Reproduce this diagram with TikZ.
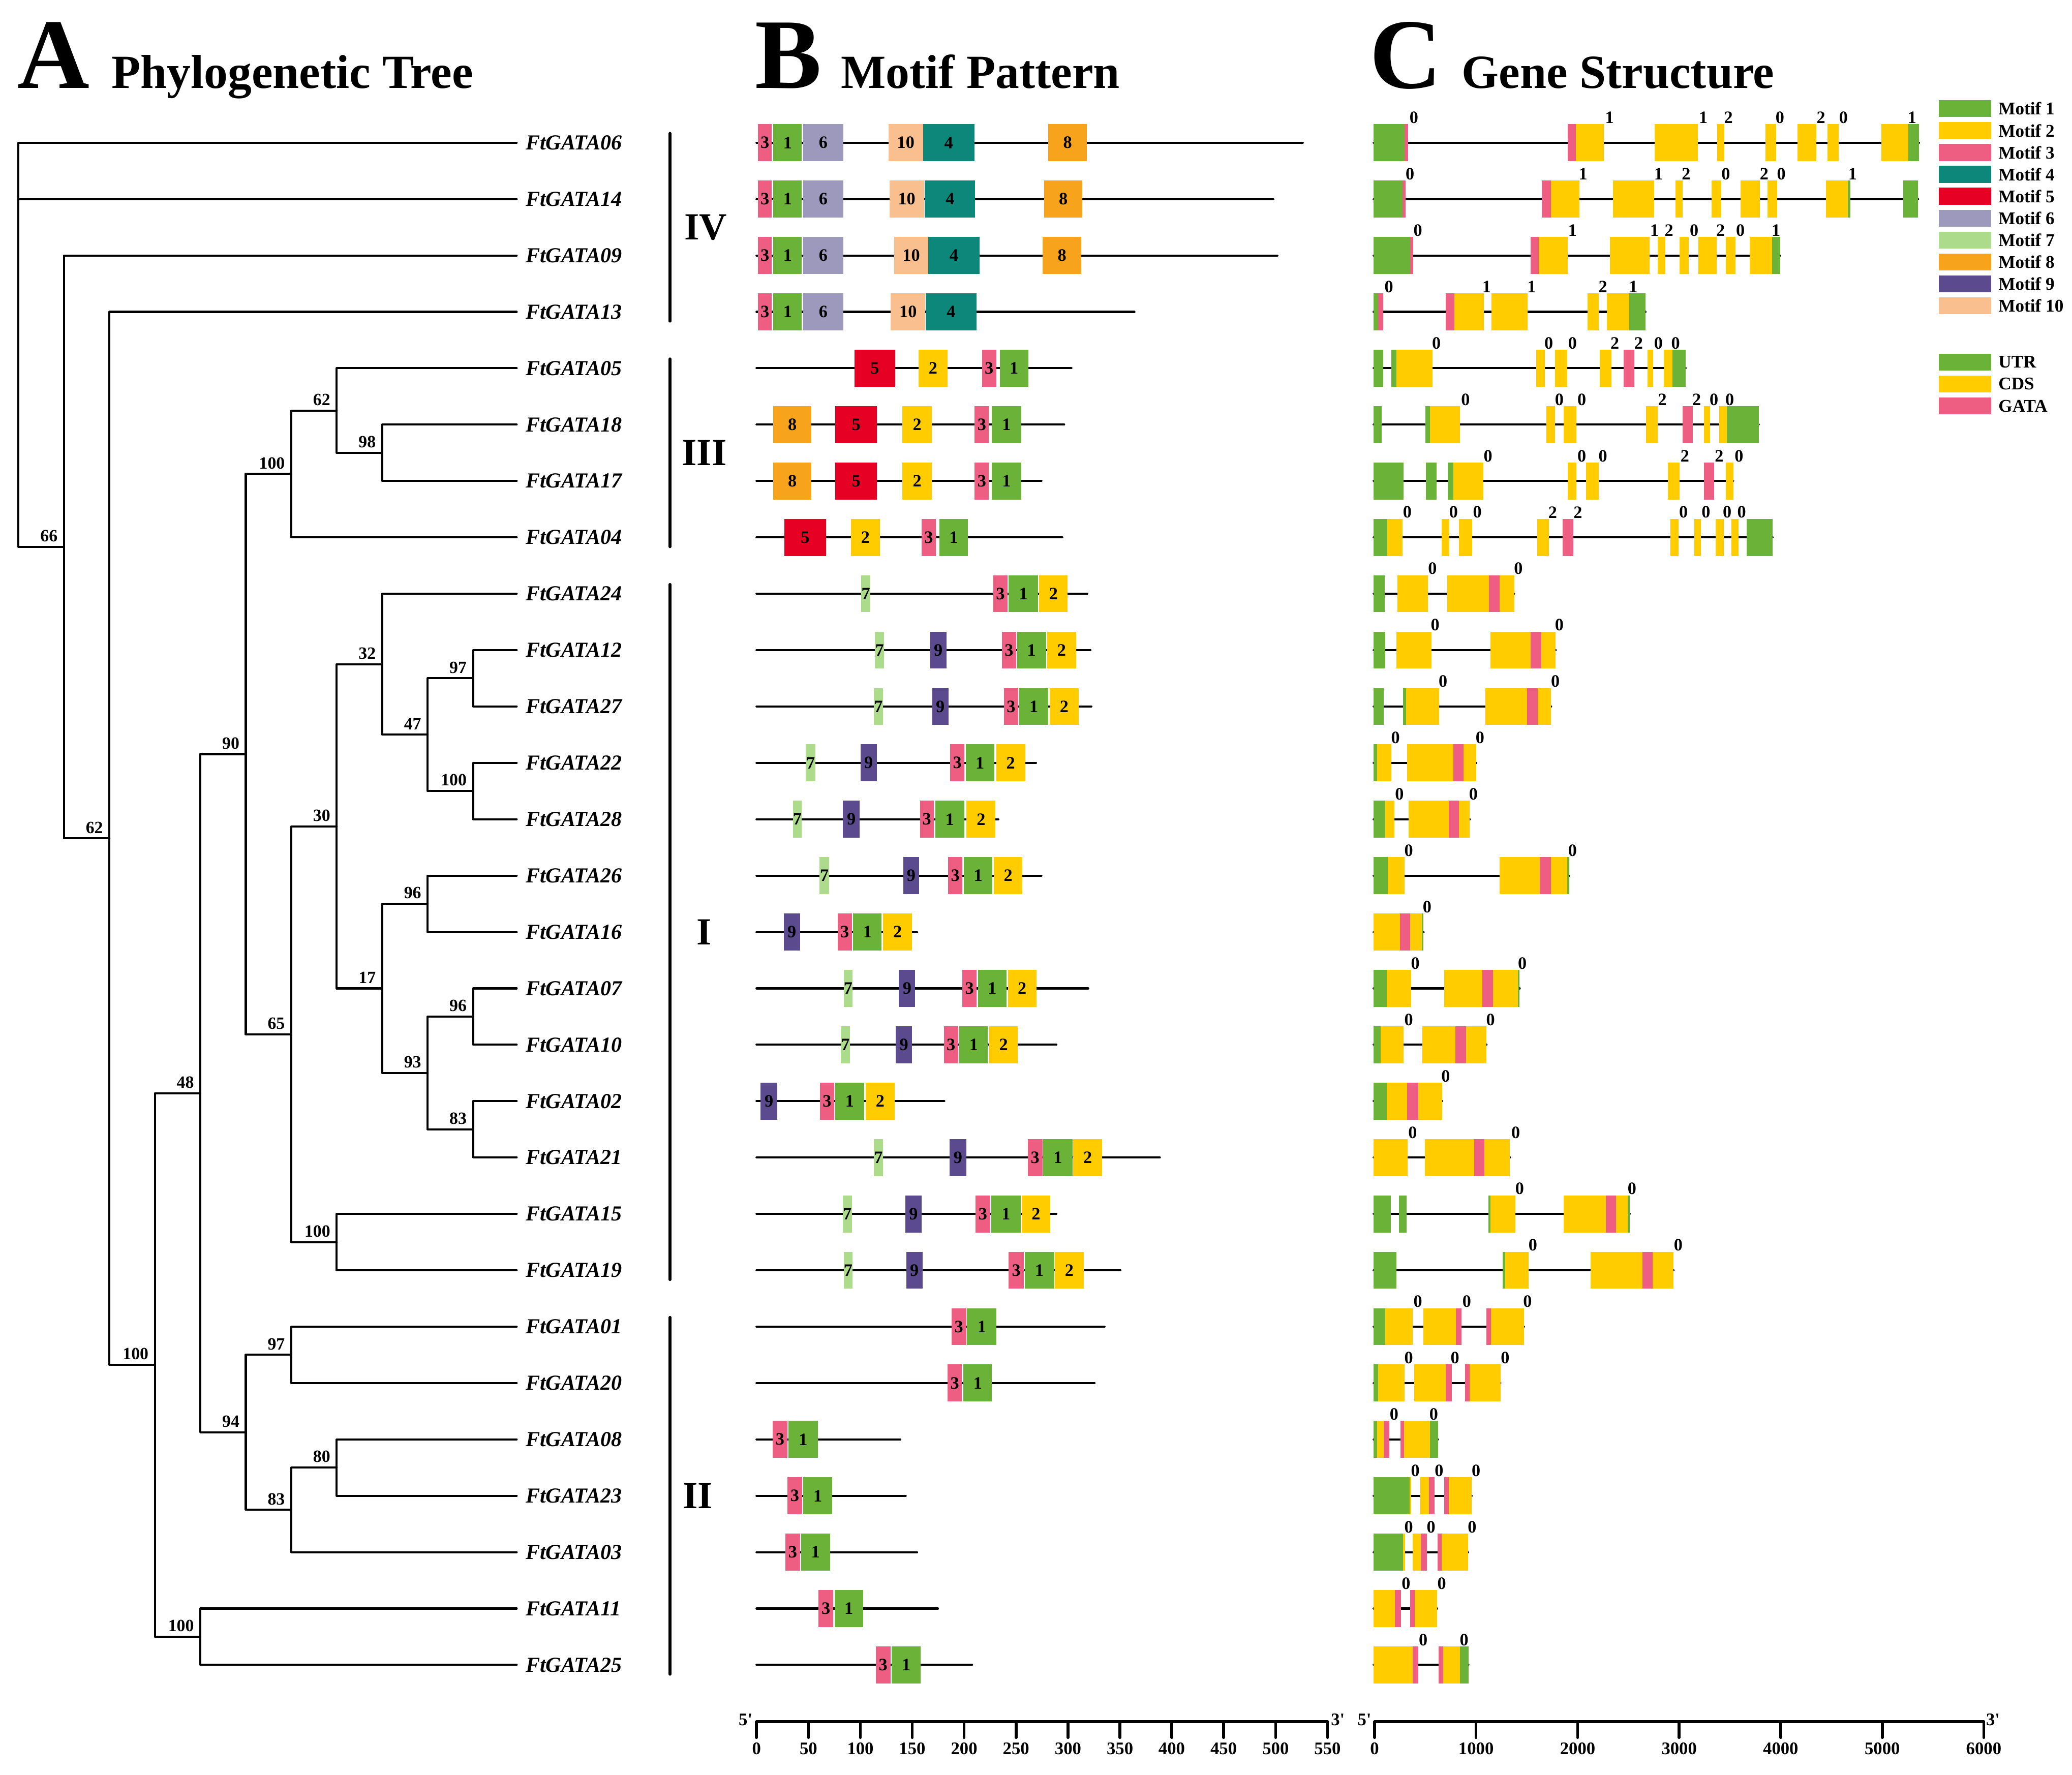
\documentclass[tikz,border=0pt]{standalone}
\usepackage{fontspec}
\setmainfont{Liberation Serif}
\usepackage{tikz}
\definecolor{motifone}{rgb}{0.42,0.70,0.22}
\definecolor{motiftwo}{rgb}{1.00,0.80,0.00}
\definecolor{motifthree}{rgb}{0.93,0.37,0.51}
\definecolor{motiffour}{rgb}{0.05,0.53,0.48}
\definecolor{motiffive}{rgb}{0.90,0.00,0.14}
\definecolor{motifsix}{rgb}{0.61,0.60,0.74}
\definecolor{motifseven}{rgb}{0.68,0.86,0.55}
\definecolor{motifeight}{rgb}{0.97,0.64,0.11}
\definecolor{motifnine}{rgb}{0.36,0.29,0.56}
\definecolor{motiften}{rgb}{0.98,0.75,0.56}
\colorlet{utrgreen}{motifone}
\colorlet{cdsyellow}{motiftwo}
\colorlet{gatapink}{motifthree}
\newcommand{\rowy}[1]{(108+42.667*(#1))}
\newcommand{\motifbox}[5]{\fill[#4] (#2,{\rowy{#1}-14}) rectangle (#3,{\rowy{#1}+14});
  \node[mlabel] (m#1-#5) at ({(#2+#3)/2},{\rowy{#1}}) {#5};}
\newcommand{\exon}[4]{\fill[#4] (#2,{\rowy{#1}-14}) rectangle (#3,{\rowy{#1}+14});}
\newcommand{\phase}[3]{\node[plabel] (p#1-#2) at (#2,{\rowy{#1}-19}) {#3};}
\newcommand{\seqline}[3]{\draw[seq] (#2,{\rowy{#1}}) -- (#3,{\rowy{#1}});}
\newcommand{\leaf}[2]{\coordinate (t#2) at (391,{\rowy{#1}});
  \node[gene] (g#2) at (397.5,{\rowy{#1}}) {FtGATA#2};}

\begin{document}
\begin{tikzpicture}[x=0.02cm,y=-0.02cm,line cap=round,line join=round,
    branch/.style={line width=0.9pt},
    seq/.style={line width=0.9pt},
    bar/.style={line width=1.3pt},
    axisline/.style={line width=1.2pt},
    gene/.style={anchor=west,inner sep=0pt,font=\fontsize{9.2}{10}\selectfont\bfseries\itshape},
    boot/.style={anchor=south east,inner sep=0pt,xshift=-0.09cm,yshift=0.07cm,font=\fontsize{7.4}{8}\selectfont\bfseries},
    mlabel/.style={inner sep=0pt,font=\fontsize{7.5}{8}\selectfont\bfseries},
    plabel/.style={inner sep=0pt,font=\fontsize{7.5}{8}\selectfont\bfseries},
    legtext/.style={anchor=west,inner sep=0pt,font=\fontsize{7.7}{8}\selectfont\bfseries},
    ticklabel/.style={inner sep=0pt,font=\fontsize{7.6}{8}\selectfont\bfseries},
    panelletter/.style={anchor=base west,inner sep=0pt,font=\fontsize{43}{43}\selectfont\bfseries},
    paneltitle/.style={anchor=base west,inner sep=0pt,font=\fontsize{20.5}{21}\selectfont\bfseries},
    clade/.style={inner sep=0pt,font=\fontsize{16.5}{17}\selectfont\bfseries}]
    \fill[white] (0,0) rectangle (1568,1343);
    % titles
    \node[panelletter] (lA) at (13,66.7) {A};
    \node[paneltitle] (tA) at (84,66.7) {Phylogenetic Tree};
    \node[panelletter] (lB) at (571,66.7) {B};
    \node[paneltitle] (tB) at (636,66.7) {Motif Pattern};
    \node[panelletter] (lC) at (1036,66.7) {C};
    \node[paneltitle] (tC) at (1106,66.7) {Gene Structure};
    % leaves
    \leaf{0}{06} \leaf{1}{14} \leaf{2}{09} \leaf{3}{13}
    \leaf{4}{05} \leaf{5}{18} \leaf{6}{17} \leaf{7}{04}
    \leaf{8}{24} \leaf{9}{12} \leaf{10}{27} \leaf{11}{22}
    \leaf{12}{28} \leaf{13}{26} \leaf{14}{16} \leaf{15}{07}
    \leaf{16}{10} \leaf{17}{02} \leaf{18}{21} \leaf{19}{15}
    \leaf{20}{19} \leaf{21}{01} \leaf{22}{20} \leaf{23}{08}
    \leaf{24}{23} \leaf{25}{03} \leaf{26}{11} \leaf{27}{25}
    % inner nodes
    \coordinate (root) at (14,261);
    \coordinate (n66) at (48.4,413.9);
    \coordinate (n62a) at (82.8,634.5);
    \coordinate (n100a) at (117.2,1033);
    \coordinate (n48) at (151.6,827.33);
    \coordinate (n100b) at (151.6,1238.67);
    \coordinate (n90) at (186,570.67);
    \coordinate (n94) at (186,1084);
    \coordinate (n100c) at (220.4,358.67);
    \coordinate (n65) at (220.4,782.67);
    \coordinate (n97b) at (220.4,1025.33);
    \coordinate (n83b) at (220.4,1142.67);
    \coordinate (n62b) at (254.8,310.67);
    \coordinate (n30) at (254.8,625.33);
    \coordinate (n100d) at (254.8,940);
    \coordinate (n80) at (254.8,1110.67);
    \coordinate (n98) at (289.2,342.67);
    \coordinate (n32) at (289.2,502.67);
    \coordinate (n17) at (289.2,748);
    \coordinate (n47) at (323.6,556);
    \coordinate (n96a) at (323.6,684);
    \coordinate (n93) at (323.6,812);
    \coordinate (n97a) at (358,513.33);
    \coordinate (n100e) at (358,598.67);
    \coordinate (n96b) at (358,769.33);
    \coordinate (n83a) at (358,854.67);
    % branches
    \draw[branch] (root) |- (t06); \draw[branch] (root) |- (t14); \draw[branch] (root) |- (n66);
    \draw[branch] (n66) |- (t09); \draw[branch] (n66) |- (n62a);
    \draw[branch] (n62a) |- (t13); \draw[branch] (n62a) |- (n100a);
    \draw[branch] (n100a) |- (n48); \draw[branch] (n100a) |- (n100b);
    \draw[branch] (n100b) |- (t11); \draw[branch] (n100b) |- (t25);
    \draw[branch] (n48) |- (n90); \draw[branch] (n48) |- (n94);
    \draw[branch] (n90) |- (n100c); \draw[branch] (n90) |- (n65);
    \draw[branch] (n100c) |- (n62b); \draw[branch] (n100c) |- (t04);
    \draw[branch] (n62b) |- (t05); \draw[branch] (n62b) |- (n98);
    \draw[branch] (n98) |- (t18); \draw[branch] (n98) |- (t17);
    \draw[branch] (n65) |- (n30); \draw[branch] (n65) |- (n100d);
    \draw[branch] (n100d) |- (t15); \draw[branch] (n100d) |- (t19);
    \draw[branch] (n30) |- (n32); \draw[branch] (n30) |- (n17);
    \draw[branch] (n32) |- (t24); \draw[branch] (n32) |- (n47);
    \draw[branch] (n47) |- (n97a); \draw[branch] (n47) |- (n100e);
    \draw[branch] (n97a) |- (t12); \draw[branch] (n97a) |- (t27);
    \draw[branch] (n100e) |- (t22); \draw[branch] (n100e) |- (t28);
    \draw[branch] (n17) |- (n96a); \draw[branch] (n17) |- (n93);
    \draw[branch] (n96a) |- (t26); \draw[branch] (n96a) |- (t16);
    \draw[branch] (n93) |- (n96b); \draw[branch] (n93) |- (n83a);
    \draw[branch] (n96b) |- (t07); \draw[branch] (n96b) |- (t10);
    \draw[branch] (n83a) |- (t02); \draw[branch] (n83a) |- (t21);
    \draw[branch] (n94) |- (n97b); \draw[branch] (n94) |- (n83b);
    \draw[branch] (n97b) |- (t01); \draw[branch] (n97b) |- (t20);
    \draw[branch] (n83b) |- (n80); \draw[branch] (n83b) |- (t03);
    \draw[branch] (n80) |- (t08); \draw[branch] (n80) |- (t23);
    % bootstrap
    \node[boot] (b66) at (n66) {66};
    \node[boot] (b62a) at (n62a) {62};
    \node[boot] (b100a) at (n100a) {100};
    \node[boot] (b48) at (n48) {48};
    \node[boot] (b100b) at (n100b) {100};
    \node[boot] (b90) at (n90) {90};
    \node[boot] (b94) at (n94) {94};
    \node[boot] (b100c) at (n100c) {100};
    \node[boot] (b65) at (n65) {65};
    \node[boot] (b97b) at (n97b) {97};
    \node[boot] (b83b) at (n83b) {83};
    \node[boot] (b62b) at (n62b) {62};
    \node[boot] (b30) at (n30) {30};
    \node[boot] (b100d) at (n100d) {100};
    \node[boot] (b80) at (n80) {80};
    \node[boot] (b98) at (n98) {98};
    \node[boot] (b32) at (n32) {32};
    \node[boot] (b17) at (n17) {17};
    \node[boot] (b47) at (n47) {47};
    \node[boot] (b96a) at (n96a) {96};
    \node[boot] (b93) at (n93) {93};
    \node[boot] (b97a) at (n97a) {97};
    \node[boot] (b100e) at (n100e) {100};
    \node[boot] (b96b) at (n96b) {96};
    \node[boot] (b83a) at (n83a) {83};
    % groups
    \draw[bar] (507,{\rowy{0}-7}) -- (507,{\rowy{3}+7});
    \draw[bar] (507,{\rowy{4}-7}) -- (507,{\rowy{7}+7});
    \draw[bar] (507,{\rowy{8}-7}) -- (507,{\rowy{20}+7});
    \draw[bar] (507,{\rowy{21}-7}) -- (507,{\rowy{27}+7});
    \node[clade] (cIV) at (533.9,{\rowy{1.5}}) {IV};
    \node[clade] (cIII) at (533,{\rowy{5.5}}) {III};
    \node[clade] (cI) at (533,{\rowy{14}}) {I};
    \node[clade] (cII) at (528,{\rowy{24}}) {II};
    % motifs
    \seqline{0}{572.5}{985.9}
    \motifbox{0}{573.5}{584.1}{motifthree}{3} \motifbox{0}{585.2}{606.8}{motifone}{1} \motifbox{0}{607.8}{638.1}{motifsix}{6}
    \motifbox{0}{672.4}{698.5}{motiften}{10} \motifbox{0}{698.5}{737.3}{motiffour}{4} \motifbox{0}{793.3}{822.5}{motifeight}{8}
    \seqline{1}{572.5}{963.6}
    \motifbox{1}{573.5}{584.1}{motifthree}{3} \motifbox{1}{585.2}{606.8}{motifone}{1} \motifbox{1}{607.8}{638.1}{motifsix}{6}
    \motifbox{1}{673.1}{699.2}{motiften}{10} \motifbox{1}{699.9}{738}{motiffour}{4} \motifbox{1}{790.2}{819}{motifeight}{8}
    \seqline{2}{572.5}{966.7}
    \motifbox{2}{573.5}{584.1}{motifthree}{3} \motifbox{2}{585.2}{606.8}{motifone}{1} \motifbox{2}{607.8}{638.1}{motifsix}{6}
    \motifbox{2}{676.5}{702.6}{motiften}{10} \motifbox{2}{702.6}{741.1}{motiffour}{4} \motifbox{2}{789.1}{818.3}{motifeight}{8}
    \seqline{3}{572.5}{858.5}
    \motifbox{3}{573.5}{584.1}{motifthree}{3} \motifbox{3}{585.2}{606.8}{motifone}{1} \motifbox{3}{607.8}{638.1}{motifsix}{6}
    \motifbox{3}{674.1}{700.2}{motiften}{10} \motifbox{3}{700.5}{739}{motiffour}{4}
    \seqline{4}{572.5}{810.8}
    \motifbox{4}{646.6}{677.5}{motiffive}{5} \motifbox{4}{695.1}{717.1}{motiftwo}{2} \motifbox{4}{743.1}{753.8}{motifthree}{3} \motifbox{4}{756.5}{778.2}{motifone}{1}
    \seqline{5}{572.5}{805.3}
    \motifbox{5}{585.2}{614}{motifeight}{8} \motifbox{5}{632.2}{663.5}{motiffive}{5} \motifbox{5}{683}{705}{motiftwo}{2}
    \motifbox{5}{737.6}{748.3}{motifthree}{3} \motifbox{5}{750.7}{772.7}{motifone}{1}
    \seqline{6}{572.5}{788.1}
    \motifbox{6}{585.2}{614}{motifeight}{8} \motifbox{6}{632.2}{663.5}{motiffive}{5} \motifbox{6}{683}{705}{motiftwo}{2}
    \motifbox{6}{737.6}{748.3}{motifthree}{3} \motifbox{6}{750.7}{772.7}{motifone}{1}
    \seqline{7}{572.5}{803.9}
    \motifbox{7}{593.7}{625}{motiffive}{5} \motifbox{7}{643.9}{665.9}{motiftwo}{2} \motifbox{7}{697.5}{708.1}{motifthree}{3} \motifbox{7}{710.9}{732.5}{motifone}{1}
    \seqline{8}{572.5}{822.8}
    \motifbox{8}{651.8}{658.6}{motifseven}{7} \motifbox{8}{751.7}{762.4}{motifthree}{3} \motifbox{8}{763.4}{785.4}{motifone}{1} \motifbox{8}{786.4}{808}{motiftwo}{2}
    \seqline{9}{572.5}{825.2}
    \motifbox{9}{662.1}{669}{motifseven}{7} \motifbox{9}{703.6}{716.4}{motifnine}{9} \motifbox{9}{758.2}{768.9}{motifthree}{3}
    \motifbox{9}{769.6}{791.6}{motifone}{1} \motifbox{9}{792.6}{814.2}{motiftwo}{2}
    \seqline{10}{572.5}{825.9}
    \motifbox{10}{661.1}{668.3}{motifseven}{7} \motifbox{10}{705.4}{717.7}{motifnine}{9} \motifbox{10}{759.6}{770.6}{motifthree}{3}
    \motifbox{10}{771.3}{793.3}{motifone}{1} \motifbox{10}{794.3}{816.3}{motiftwo}{2}
    \seqline{11}{572.5}{784}
    \motifbox{11}{609.9}{617.1}{motifseven}{7} \motifbox{11}{651.1}{663.5}{motifnine}{9} \motifbox{11}{719.1}{729.7}{motifthree}{3}
    \motifbox{11}{730.8}{752.4}{motifone}{1} \motifbox{11}{753.8}{775.8}{motiftwo}{2}
    \seqline{12}{572.5}{755.5}
    \motifbox{12}{600}{606.8}{motifseven}{7} \motifbox{12}{638}{650.4}{motifnine}{9} \motifbox{12}{696.1}{706.7}{motifthree}{3}
    \motifbox{12}{707.8}{729.7}{motifone}{1} \motifbox{12}{731.4}{753.4}{motiftwo}{2}
    \seqline{13}{572.5}{788.1}
    \motifbox{13}{620.2}{627.4}{motifseven}{7} \motifbox{13}{683.4}{695.7}{motifnine}{9} \motifbox{13}{717.4}{728.4}{motifthree}{3}
    \motifbox{13}{729.4}{751}{motifone}{1} \motifbox{13}{752.1}{773.7}{motiftwo}{2}
    \seqline{14}{572.5}{694}
    \motifbox{14}{593.1}{605.4}{motifnine}{9} \motifbox{14}{633.9}{644.6}{motifthree}{3} \motifbox{14}{645.6}{667.2}{motifone}{1} \motifbox{14}{668.3}{690.2}{motiftwo}{2}
    \seqline{15}{572.5}{823.5}
    \motifbox{15}{638.4}{645.3}{motifseven}{7} \motifbox{15}{680.3}{692.6}{motifnine}{9} \motifbox{15}{728.4}{739}{motifthree}{3}
    \motifbox{15}{740}{761.7}{motifone}{1} \motifbox{15}{762.7}{784.3}{motiftwo}{2}
    \seqline{16}{572.5}{799.4}
    \motifbox{16}{636.3}{643.2}{motifseven}{7} \motifbox{16}{677.9}{690.2}{motifnine}{9} \motifbox{16}{714.3}{725}{motifthree}{3}
    \motifbox{16}{726}{747.6}{motifone}{1} \motifbox{16}{748.6}{770.3}{motiftwo}{2}
    \seqline{17}{572.5}{714.6}
    \motifbox{17}{575.5}{588.3}{motifnine}{9} \motifbox{17}{620.5}{631.2}{motifthree}{3} \motifbox{17}{632.2}{653.8}{motifone}{1} \motifbox{17}{655.2}{676.9}{motiftwo}{2}
    \seqline{18}{572.5}{877.7}
    \motifbox{18}{661.1}{668.3}{motifseven}{7} \motifbox{18}{718.7}{731.1}{motifnine}{9} \motifbox{18}{777.8}{788.8}{motifthree}{3}
    \motifbox{18}{789.5}{811.5}{motifone}{1} \motifbox{18}{812.2}{834.1}{motiftwo}{2}
    \seqline{19}{572.5}{799.4}
    \motifbox{19}{637.7}{644.6}{motifseven}{7} \motifbox{19}{685.1}{697.5}{motifnine}{9} \motifbox{19}{738.3}{749.3}{motifthree}{3}
    \motifbox{19}{750.3}{772.3}{motifone}{1} \motifbox{19}{773.4}{794.6}{motiftwo}{2}
    \seqline{20}{572.5}{847.9}
    \motifbox{20}{638.4}{645.3}{motifseven}{7} \motifbox{20}{685.8}{698.1}{motifnine}{9} \motifbox{20}{763.4}{774.7}{motifthree}{3}
    \motifbox{20}{775.4}{797.7}{motifone}{1} \motifbox{20}{798.4}{820}{motiftwo}{2}
    \seqline{21}{572.5}{835.9}
    \motifbox{21}{720.1}{731.1}{motifthree}{3} \motifbox{21}{731.8}{754.1}{motifone}{1}
    \seqline{22}{572.5}{828.3}
    \motifbox{22}{717}{728}{motifthree}{3} \motifbox{22}{729.1}{750.7}{motifone}{1}
    \seqline{23}{572.5}{681.3}
    \motifbox{23}{584.8}{595.8}{motifthree}{3} \motifbox{23}{596.8}{618.8}{motifone}{1}
    \seqline{24}{572.5}{685.4}
    \motifbox{24}{595.8}{607.1}{motifthree}{3} \motifbox{24}{607.8}{629.8}{motifone}{1}
    \seqline{25}{572.5}{694}
    \motifbox{25}{594.4}{605.4}{motifthree}{3} \motifbox{25}{606.1}{628.1}{motifone}{1}
    \seqline{26}{572.5}{709.8}
    \motifbox{26}{619.5}{630.5}{motifthree}{3} \motifbox{26}{631.5}{653.2}{motifone}{1}
    \seqline{27}{572.5}{735.6}
    \motifbox{27}{662.8}{673.8}{motifthree}{3} \motifbox{27}{674.8}{696.8}{motifone}{1}
    % gene structure
    \seqline{0}{1039.5}{1452.2}
    \exon{0}{1039.5}{1063}{utrgreen} \exon{0}{1063}{1065.4}{gatapink} \exon{0}{1186.4}{1192.7}{gatapink} \exon{0}{1192.7}{1213.7}{cdsyellow}
    \exon{0}{1252.2}{1285}{cdsyellow} \exon{0}{1299.4}{1305}{cdsyellow} \exon{0}{1336.1}{1344.2}{cdsyellow} \exon{0}{1360.3}{1374.6}{cdsyellow}
    \exon{0}{1383}{1391.4}{cdsyellow} \exon{0}{1423.9}{1444.2}{cdsyellow} \exon{0}{1444.2}{1452.2}{utrgreen}
    \phase{0}{1070}{0} \phase{0}{1218}{1} \phase{0}{1289}{1} \phase{0}{1308}{2} \phase{0}{1347}{0} \phase{0}{1378}{2} \phase{0}{1395}{0} \phase{0}{1447}{1}
    \seqline{1}{1039.5}{1451.5}
    \exon{1}{1039.5}{1061.2}{utrgreen} \exon{1}{1061.2}{1063.7}{gatapink} \exon{1}{1166.8}{1173.5}{gatapink} \exon{1}{1173.5}{1195.2}{cdsyellow}
    \exon{1}{1220.7}{1251.8}{cdsyellow} \exon{1}{1267.9}{1273.5}{cdsyellow} \exon{1}{1295.2}{1302.6}{cdsyellow} \exon{1}{1317.2}{1331.6}{cdsyellow}
    \exon{1}{1337.5}{1344.9}{cdsyellow} \exon{1}{1381.9}{1398.4}{cdsyellow} \exon{1}{1398.4}{1400.1}{utrgreen} \exon{1}{1440.3}{1451.5}{utrgreen}
    \phase{1}{1067}{0} \phase{1}{1198}{1} \phase{1}{1255}{1} \phase{1}{1276}{2} \phase{1}{1306}{0} \phase{1}{1335}{2} \phase{1}{1348}{0} \phase{1}{1402}{1}
    \seqline{2}{1039.5}{1347}
    \exon{2}{1039.5}{1067.1}{utrgreen} \exon{2}{1067.1}{1069.6}{gatapink} \exon{2}{1158.1}{1164.4}{gatapink} \exon{2}{1164.4}{1186.4}{cdsyellow}
    \exon{2}{1218.3}{1248.3}{cdsyellow} \exon{2}{1254.6}{1260.2}{cdsyellow} \exon{2}{1271}{1278}{cdsyellow} \exon{2}{1285.1}{1299}{cdsyellow}
    \exon{2}{1306}{1313.4}{cdsyellow} \exon{2}{1323.9}{1341}{cdsyellow} \exon{2}{1341}{1347}{utrgreen}
    \phase{2}{1073}{0} \phase{2}{1190}{1} \phase{2}{1252}{1} \phase{2}{1263}{2} \phase{2}{1282}{0} \phase{2}{1302}{2} \phase{2}{1317}{0} \phase{2}{1344}{1}
    \seqline{3}{1039.5}{1245.2}
    \exon{3}{1039.5}{1043}{utrgreen} \exon{3}{1043}{1046.9}{gatapink} \exon{3}{1094.1}{1100.7}{gatapink} \exon{3}{1100.7}{1122.8}{cdsyellow}
    \exon{3}{1128.7}{1156}{cdsyellow} \exon{3}{1201.5}{1209.9}{cdsyellow} \exon{3}{1215.8}{1232.9}{cdsyellow} \exon{3}{1232.9}{1245.2}{utrgreen}
    \phase{3}{1051}{0} \phase{3}{1125}{1} \phase{3}{1159}{1} \phase{3}{1213}{2} \phase{3}{1236}{1}
    \seqline{4}{1039.5}{1275.6}
    \exon{4}{1039.5}{1046.9}{utrgreen} \exon{4}{1052.8}{1056.7}{utrgreen} \exon{4}{1056.7}{1084}{cdsyellow} \exon{4}{1162.6}{1168.9}{cdsyellow}
    \exon{4}{1176.6}{1186}{cdsyellow} \exon{4}{1210.6}{1219.3}{cdsyellow} \exon{4}{1228.7}{1236.8}{gatapink} \exon{4}{1246.9}{1251.1}{cdsyellow}
    \exon{4}{1259.2}{1265.5}{cdsyellow} \exon{4}{1265.5}{1275.6}{utrgreen}
    \phase{4}{1087}{0} \phase{4}{1172}{0} \phase{4}{1190}{0} \phase{4}{1222}{2} \phase{4}{1240}{2} \phase{4}{1255}{0} \phase{4}{1268}{0}
    \seqline{5}{1039.5}{1330.9}
    \exon{5}{1039.5}{1045.5}{utrgreen} \exon{5}{1078.7}{1082.2}{utrgreen} \exon{5}{1082.2}{1104.9}{cdsyellow} \exon{5}{1170.3}{1176.6}{cdsyellow}
    \exon{5}{1183.3}{1193.1}{cdsyellow} \exon{5}{1245.5}{1254.3}{cdsyellow} \exon{5}{1273.2}{1280.9}{gatapink} \exon{5}{1289.6}{1294.2}{cdsyellow}
    \exon{5}{1301.1}{1306.7}{cdsyellow} \exon{5}{1306.7}{1330.9}{utrgreen}
    \phase{5}{1109}{0} \phase{5}{1180}{0} \phase{5}{1197}{0} \phase{5}{1258}{2} \phase{5}{1284}{2} \phase{5}{1297}{0} \phase{5}{1309}{0}
    \seqline{6}{1039.5}{1311.6}
    \exon{6}{1039.5}{1062.3}{utrgreen} \exon{6}{1079}{1087.1}{utrgreen} \exon{6}{1095.5}{1099.7}{utrgreen} \exon{6}{1099.7}{1122.4}{cdsyellow}
    \exon{6}{1186.4}{1193.1}{cdsyellow} \exon{6}{1200.1}{1209.9}{cdsyellow} \exon{6}{1262.3}{1271}{cdsyellow} \exon{6}{1289.6}{1297.3}{gatapink}
    \exon{6}{1306}{1311.6}{cdsyellow}
    \phase{6}{1126}{0} \phase{6}{1197}{0} \phase{6}{1213}{0} \phase{6}{1275}{2} \phase{6}{1301}{2} \phase{6}{1316}{0}
    \seqline{7}{1039.5}{1341.4}
    \exon{7}{1039.5}{1049.7}{utrgreen} \exon{7}{1049.7}{1061.2}{cdsyellow} \exon{7}{1091}{1096.9}{cdsyellow} \exon{7}{1103.9}{1114}{cdsyellow}
    \exon{7}{1163.3}{1172.1}{cdsyellow} \exon{7}{1182.6}{1190.6}{gatapink} \exon{7}{1264.1}{1270.4}{cdsyellow} \exon{7}{1282.3}{1287.2}{cdsyellow}
    \exon{7}{1298.4}{1304.3}{cdsyellow} \exon{7}{1310.2}{1315.5}{cdsyellow} \exon{7}{1321.8}{1341.4}{utrgreen}
    \phase{7}{1065}{0} \phase{7}{1100}{0} \phase{7}{1118}{0} \phase{7}{1175}{2} \phase{7}{1194}{2} \phase{7}{1274}{0} \phase{7}{1291}{0} \phase{7}{1307}{0} \phase{7}{1318}{0}
    \seqline{8}{1039.5}{1145.8}
    \exon{8}{1039.5}{1047.9}{utrgreen} \exon{8}{1057.4}{1080.4}{cdsyellow} \exon{8}{1095.1}{1126.6}{cdsyellow} \exon{8}{1126.6}{1134.7}{gatapink} \exon{8}{1134.7}{1145.8}{cdsyellow}
    \phase{8}{1084}{0} \phase{8}{1149}{0}
    \seqline{9}{1039.5}{1177.3}
    \exon{9}{1039.5}{1048.3}{utrgreen} \exon{9}{1056.7}{1083.2}{cdsyellow} \exon{9}{1128}{1158.4}{cdsyellow} \exon{9}{1158.4}{1166.5}{gatapink} \exon{9}{1166.5}{1177.3}{cdsyellow}
    \phase{9}{1086}{0} \phase{9}{1180}{0}
    \seqline{10}{1039.5}{1173.8}
    \exon{10}{1039.5}{1047.2}{utrgreen} \exon{10}{1061.6}{1064}{utrgreen} \exon{10}{1064}{1089.2}{cdsyellow} \exon{10}{1124.2}{1155.6}{cdsyellow}
    \exon{10}{1155.6}{1163.7}{gatapink} \exon{10}{1163.7}{1173.8}{cdsyellow}
    \phase{10}{1092}{0} \phase{10}{1177}{0}
    \seqline{11}{1039.5}{1117.2}
    \exon{11}{1039.5}{1042.3}{utrgreen} \exon{11}{1042.3}{1052.8}{cdsyellow} \exon{11}{1065}{1099.7}{cdsyellow} \exon{11}{1099.7}{1107.4}{gatapink} \exon{11}{1107.4}{1117.2}{cdsyellow}
    \phase{11}{1056}{0} \phase{11}{1120}{0}
    \seqline{12}{1039.5}{1112.3}
    \exon{12}{1039.5}{1048.3}{utrgreen} \exon{12}{1048.3}{1055.3}{cdsyellow} \exon{12}{1065.8}{1096.2}{cdsyellow} \exon{12}{1096.2}{1103.9}{gatapink} \exon{12}{1103.9}{1112.3}{cdsyellow}
    \phase{12}{1059}{0} \phase{12}{1115}{0}
    \seqline{13}{1039.5}{1187.5}
    \exon{13}{1039.5}{1050}{utrgreen} \exon{13}{1050}{1063}{cdsyellow} \exon{13}{1134.7}{1165.4}{cdsyellow} \exon{13}{1165.4}{1173.5}{gatapink}
    \exon{13}{1173.5}{1186}{cdsyellow} \exon{13}{1186}{1187.5}{utrgreen}
    \phase{13}{1066}{0} \phase{13}{1190}{0}
    \seqline{14}{1039.5}{1077.3}
    \exon{14}{1039.5}{1059.5}{cdsyellow} \exon{14}{1059.5}{1067.1}{gatapink} \exon{14}{1067.1}{1075.9}{cdsyellow} \exon{14}{1075.9}{1077.3}{utrgreen}
    \phase{14}{1080}{0}
    \seqline{15}{1039.5}{1150}
    \exon{15}{1039.5}{1049.3}{utrgreen} \exon{15}{1049.3}{1067.8}{cdsyellow} \exon{15}{1093}{1121.7}{cdsyellow} \exon{15}{1121.7}{1129.8}{gatapink}
    \exon{15}{1129.8}{1148.6}{cdsyellow} \exon{15}{1148.6}{1150}{utrgreen}
    \phase{15}{1071}{0} \phase{15}{1152}{0}
    \seqline{16}{1039.5}{1124.9}
    \exon{16}{1039.5}{1044.8}{utrgreen} \exon{16}{1044.8}{1062.3}{cdsyellow} \exon{16}{1076.2}{1101.4}{cdsyellow} \exon{16}{1101.4}{1109.5}{gatapink} \exon{16}{1109.5}{1124.9}{cdsyellow}
    \phase{16}{1066}{0} \phase{16}{1128}{0}
    \seqline{17}{1039.5}{1091.3}
    \exon{17}{1039.5}{1049.3}{utrgreen} \exon{17}{1049.3}{1065}{cdsyellow} \exon{17}{1065}{1073.1}{gatapink} \exon{17}{1073.1}{1091.3}{cdsyellow}
    \phase{17}{1094}{0}
    \seqline{18}{1039.5}{1142.7}
    \exon{18}{1039.5}{1065.1}{cdsyellow} \exon{18}{1078.3}{1115.4}{cdsyellow} \exon{18}{1115.4}{1123.1}{gatapink} \exon{18}{1123.1}{1142.7}{cdsyellow}
    \phase{18}{1069}{0} \phase{18}{1147}{0}
    \seqline{19}{1039.5}{1233.3}
    \exon{19}{1039.5}{1052.5}{utrgreen} \exon{19}{1058.8}{1064.4}{utrgreen} \exon{19}{1126.3}{1128}{utrgreen} \exon{19}{1128}{1146.9}{cdsyellow}
    \exon{19}{1183.3}{1215.4}{cdsyellow} \exon{19}{1215.4}{1223.1}{gatapink} \exon{19}{1223.1}{1231.9}{cdsyellow} \exon{19}{1231.9}{1233.3}{utrgreen}
    \phase{19}{1150}{0} \phase{19}{1235}{0}
    \seqline{20}{1039.5}{1266.5}
    \exon{20}{1039.5}{1056.7}{utrgreen} \exon{20}{1137.1}{1138.9}{utrgreen} \exon{20}{1138.9}{1156.7}{cdsyellow} \exon{20}{1203.6}{1243.1}{cdsyellow}
    \exon{20}{1243.1}{1250.8}{gatapink} \exon{20}{1250.8}{1266.5}{cdsyellow}
    \phase{20}{1160}{0} \phase{20}{1270}{0}
    \seqline{21}{1039.5}{1153.2}
    \exon{21}{1039.5}{1048.3}{utrgreen} \exon{21}{1048.3}{1069.2}{cdsyellow} \exon{21}{1077.3}{1101.8}{cdsyellow} \exon{21}{1101.8}{1106}{gatapink}
    \exon{21}{1124.9}{1128.4}{gatapink} \exon{21}{1128.4}{1153.2}{cdsyellow}
    \phase{21}{1073}{0} \phase{21}{1110}{0} \phase{21}{1156}{0}
    \seqline{22}{1039.5}{1135.4}
    \exon{22}{1039.5}{1042.7}{utrgreen} \exon{22}{1042.7}{1063}{cdsyellow} \exon{22}{1070.3}{1094.1}{cdsyellow} \exon{22}{1094.1}{1098.6}{gatapink}
    \exon{22}{1108.8}{1112.3}{gatapink} \exon{22}{1112.3}{1135.4}{cdsyellow}
    \phase{22}{1066}{0} \phase{22}{1101}{0} \phase{22}{1139}{0}
    \seqline{23}{1039.5}{1088.1}
    \exon{23}{1039.5}{1042}{utrgreen} \exon{23}{1042}{1047.2}{cdsyellow} \exon{23}{1047.2}{1051.4}{gatapink} \exon{23}{1059.8}{1062.6}{gatapink}
    \exon{23}{1062.6}{1082.2}{cdsyellow} \exon{23}{1082.2}{1088.1}{utrgreen}
    \phase{23}{1055}{0} \phase{23}{1085}{0}
    \seqline{24}{1039.5}{1113.7}
    \exon{24}{1039.5}{1066.8}{utrgreen} \exon{24}{1066.8}{1068}{cdsyellow} \exon{24}{1074.8}{1081.5}{cdsyellow} \exon{24}{1081.5}{1085.7}{gatapink}
    \exon{24}{1093}{1096.5}{gatapink} \exon{24}{1096.5}{1113.7}{cdsyellow}
    \phase{24}{1071}{0} \phase{24}{1089}{0} \phase{24}{1117}{0}
    \seqline{25}{1039.5}{1110.9}
    \exon{25}{1039.5}{1061.9}{utrgreen} \exon{25}{1061.9}{1063.2}{cdsyellow} \exon{25}{1069.2}{1075.2}{cdsyellow} \exon{25}{1075.2}{1079.7}{gatapink}
    \exon{25}{1087.8}{1090.9}{gatapink} \exon{25}{1090.9}{1110.9}{cdsyellow}
    \phase{25}{1066}{0} \phase{25}{1083}{0} \phase{25}{1114}{0}
    \seqline{26}{1039.5}{1087.4}
    \exon{26}{1039.5}{1055.6}{cdsyellow} \exon{26}{1055.6}{1060.2}{gatapink} \exon{26}{1067.1}{1070.6}{gatapink} \exon{26}{1070.6}{1087.4}{cdsyellow}
    \phase{26}{1064}{0} \phase{26}{1091}{0}
    \seqline{27}{1039.5}{1111.2}
    \exon{27}{1039.5}{1068.9}{cdsyellow} \exon{27}{1068.9}{1073.4}{gatapink} \exon{27}{1088.5}{1092}{gatapink} \exon{27}{1092}{1104.9}{cdsyellow}
    \exon{27}{1104.9}{1111.2}{utrgreen}
    \phase{27}{1077}{0} \phase{27}{1108}{0}
    % legend
    \fill[motifone] (1467,75.8) rectangle (1507,88.6); \node[legtext] (k1) at (1512,82.2) {Motif 1};
    \fill[motiftwo] (1467,92.4) rectangle (1507,105.2); \node[legtext] (k2) at (1512,98.8) {Motif 2};
    \fill[motifthree] (1467,109) rectangle (1507,121.8); \node[legtext] (k3) at (1512,115.4) {Motif 3};
    \fill[motiffour] (1467,125.5) rectangle (1507,138.3); \node[legtext] (k4) at (1512,131.9) {Motif 4};
    \fill[motiffive] (1467,142.1) rectangle (1507,154.9); \node[legtext] (k5) at (1512,148.5) {Motif 5};
    \fill[motifsix] (1467,158.7) rectangle (1507,171.5); \node[legtext] (k6) at (1512,165.1) {Motif 6};
    \fill[motifseven] (1467,175.3) rectangle (1507,188.1); \node[legtext] (k7) at (1512,181.7) {Motif 7};
    \fill[motifeight] (1467,191.9) rectangle (1507,204.7); \node[legtext] (k8) at (1512,198.3) {Motif 8};
    \fill[motifnine] (1467,208.4) rectangle (1507,221.2); \node[legtext] (k9) at (1512,214.8) {Motif 9};
    \fill[motiften] (1467,225) rectangle (1507,237.8); \node[legtext] (k10) at (1512,231.4) {Motif 10};
    \fill[utrgreen] (1467,267.6) rectangle (1507,280.4); \node[legtext] (ku) at (1512,274) {UTR};
    \fill[cdsyellow] (1467,284.2) rectangle (1507,297); \node[legtext] (kc) at (1512,290.6) {CDS};
    \fill[gatapink] (1467,300.8) rectangle (1507,313.6); \node[legtext] (kg) at (1512,307.2) {GATA};
    % axis B
    \draw[axisline] (572.5,1303) -- (1004.6,1303);
    \node[ticklabel] (eb5) at (564.2,1301.5) {5\textquotesingle};
    \node[ticklabel] (eb3) at (1012.4,1301.5) {3\textquotesingle};
    \draw[axisline] (572.5,1303) -- (572.5,1315); \node[ticklabel] (xb0) at (572.5,1323.5) {0};
    \draw[axisline] (611.8,1303) -- (611.8,1315); \node[ticklabel] (xb50) at (611.8,1323.5) {50};
    \draw[axisline] (651.1,1303) -- (651.1,1315); \node[ticklabel] (xb100) at (651.1,1323.5) {100};
    \draw[axisline] (690.3,1303) -- (690.3,1315); \node[ticklabel] (xb150) at (690.3,1323.5) {150};
    \draw[axisline] (729.6,1303) -- (729.6,1315); \node[ticklabel] (xb200) at (729.6,1323.5) {200};
    \draw[axisline] (768.9,1303) -- (768.9,1315); \node[ticklabel] (xb250) at (768.9,1323.5) {250};
    \draw[axisline] (808.2,1303) -- (808.2,1315); \node[ticklabel] (xb300) at (808.2,1323.5) {300};
    \draw[axisline] (847.5,1303) -- (847.5,1315); \node[ticklabel] (xb350) at (847.5,1323.5) {350};
    \draw[axisline] (886.7,1303) -- (886.7,1315); \node[ticklabel] (xb400) at (886.7,1323.5) {400};
    \draw[axisline] (926,1303) -- (926,1315); \node[ticklabel] (xb450) at (926,1323.5) {450};
    \draw[axisline] (965.3,1303) -- (965.3,1315); \node[ticklabel] (xb500) at (965.3,1323.5) {500};
    \draw[axisline] (1004.6,1303) -- (1004.6,1315); \node[ticklabel] (xb550) at (1004.6,1323.5) {550};
    % axis C
    \draw[axisline] (1040.2,1303) -- (1501.2,1303);
    \node[ticklabel] (ec5) at (1032.5,1301.5) {5\textquotesingle};
    \node[ticklabel] (ec3) at (1508.2,1301.5) {3\textquotesingle};
    \draw[axisline] (1040.2,1303) -- (1040.2,1315); \node[ticklabel] (xc0) at (1040.2,1323.5) {0};
    \draw[axisline] (1117,1303) -- (1117,1315); \node[ticklabel] (xc1) at (1117,1323.5) {1000};
    \draw[axisline] (1193.9,1303) -- (1193.9,1315); \node[ticklabel] (xc2) at (1193.9,1323.5) {2000};
    \draw[axisline] (1270.7,1303) -- (1270.7,1315); \node[ticklabel] (xc3) at (1270.7,1323.5) {3000};
    \draw[axisline] (1347.5,1303) -- (1347.5,1315); \node[ticklabel] (xc4) at (1347.5,1323.5) {4000};
    \draw[axisline] (1424.4,1303) -- (1424.4,1315); \node[ticklabel] (xc5) at (1424.4,1323.5) {5000};
    \draw[axisline] (1501.2,1303) -- (1501.2,1315); \node[ticklabel] (xc6) at (1501.2,1323.5) {6000};
\end{tikzpicture}
\end{document}
